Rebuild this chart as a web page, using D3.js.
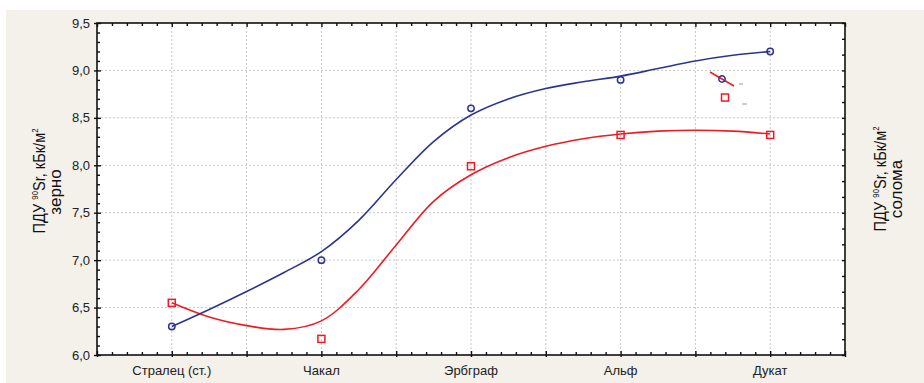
<!DOCTYPE html>
<html>
<head>
<meta charset="utf-8">
<script src="https://cdnjs.cloudflare.com/ajax/libs/d3/7.8.5/d3.min.js"></script>
<style>
  body { margin: 0; background: #fff; }
  text { font-family: "Liberation Sans", Arial, sans-serif; }
</style>
</head>
<body>
<div id="chart"></div>
<script>
// varieties on the x axis
var categories = ["Стралец (ст.)", "Чакал", "Эрбграф", "Альф", "Дукат"];

// measured values (left axis units)
var grainValues = [6.3, 7.0, 8.6, 8.9, 9.2];      // зерно, blue circles
var strawValues = [6.55, 6.17, 7.99, 8.32, 8.32]; // солома, red squares

// fitted curves, position 1..5 = category index
var fitPos = [1, 1.25, 1.5, 1.75, 2, 2.25, 2.5, 2.75, 3, 3.25, 3.5, 3.75, 4, 4.25, 4.5, 4.75, 5];
var grainFit = [6.3, 6.48, 6.67, 6.87, 7.09, 7.42, 7.85, 8.25, 8.53, 8.7, 8.81, 8.88, 8.94, 9.02, 9.1, 9.16, 9.2];
var strawFit = [6.55, 6.4, 6.31, 6.27, 6.36, 6.69, 7.16, 7.62, 7.9, 8.08, 8.2, 8.28, 8.33, 8.36, 8.37, 8.36, 8.33];

var yTickLabels = [6.0, 6.5, 7.0, 7.5, 8.0, 8.5, 9.0, 9.5];

var W = 924, H = 383;
var margin = {top: 23, right: 79, bottom: 28, left: 97};
var width = W - margin.left - margin.right,
    height = H - margin.top - margin.bottom;

var blue = "#2b3590", red = "#ec1c24";

var svg = d3.select("#chart").append("svg")
  .attr("width", W)
  .attr("height", H);

// beige panel behind everything
svg.append("rect")
  .attr("x", 6).attr("y", 10)
  .attr("width", W - 6).attr("height", H - 10)
  .attr("fill", "#f4f0ea");

var g = svg.append("g")
  .attr("transform", "translate(" + margin.left + "," + margin.top + ")");

g.append("rect")
  .attr("width", width).attr("height", height)
  .attr("fill", "#fff");

var x = d3.scaleLinear().domain([0.5, 5.5]).range([0, width]);
var y = d3.scaleLinear().domain([6.0, 9.5]).range([height, 0]);
// right axis (солома) only shows ticks, no labels
var y2 = d3.scaleLinear().domain([0, 21]).range([height, 0]);

//dotted grid
g.selectAll(".vgrid")
  .data(d3.range(1, 5.01, 0.5))
  .enter().append("line")
  .attr("x1", d => x(d)).attr("x2", d => x(d))
  .attr("y1", 0).attr("y2", height)
  .attr("stroke", "#c8c8c8")
  .attr("stroke-dasharray", "2,2");

g.selectAll(".hgrid")
  .data(yTickLabels.slice(1, -1))
  .enter().append("line")
  .attr("x1", 0).attr("x2", width)
  .attr("y1", d => y(d)).attr("y2", d => y(d))
  .attr("stroke", "#c8c8c8")
  .attr("stroke-dasharray", "2,2");

var isMajor = function(d){ return Math.abs(d * 2 - Math.round(d * 2)) < 1e-6; };
var fmt = function(d){ return d3.format(".1f")(d).replace(".", ","); };

// ticks every 0.1, point inward
var xMinor = d3.range(5, 56).map(d => d / 10);
var yMinor = d3.range(60, 96).map(d => d / 10);

g.append("g")
  .attr("transform", "translate(0," + height + ")")
  .call(d3.axisBottom(x).tickValues(xMinor).tickSize(0).tickFormat(""))
  .call(a => a.selectAll(".tick line").attr("y2", d => isMajor(d) ? -4 : -3).attr("y1", d => isMajor(d) ? 2 : 0));

g.append("g")
  .call(d3.axisTop(x).tickValues(xMinor).tickSize(0).tickFormat(""))
  .call(a => a.selectAll(".tick line").attr("y2", d => isMajor(d) ? 4 : 3));

g.append("g")
  .call(d3.axisLeft(y).tickValues(yMinor).tickSize(0).tickFormat(""))
  .call(a => a.selectAll(".tick line").attr("x2", d => isMajor(d) ? 4 : 3).attr("x1", d => isMajor(d) ? -3 : 0));

g.append("g")
  .attr("transform", "translate(" + width + ",0)")
  .call(d3.axisRight(y2).tickValues(d3.range(0, 22)).tickSize(0).tickFormat(""))
  .call(a => a.selectAll(".tick line").attr("x2", -3));

g.selectAll(".axis-frame").data([0]).enter().append("rect")
  .attr("width", width).attr("height", height)
  .attr("fill", "none").attr("stroke", "#111").attr("stroke-width", 1.6);

g.selectAll("g .domain").remove();
g.selectAll(".tick line").attr("stroke", "#111").attr("stroke-width", 1.4);

// tick labels
g.selectAll(".ylab")
  .data(yTickLabels)
  .enter().append("text")
  .attr("x", -7).attr("y", d => y(d)).attr("dy", "0.35em")
  .attr("text-anchor", "end")
  .attr("font-size", 13).attr("fill", "#222")
  .text(fmt);

g.selectAll(".xlab")
  .data(categories)
  .enter().append("text")
  .attr("x", (d, i) => x(i + 1)).attr("y", height + 20)
  .attr("text-anchor", "middle")
  .attr("font-size", 13).attr("fill", "#222")
  .text(d => d);

// fitted lines
var line = function(vals){
  return d3.line()
    .x((d, i) => x(fitPos[i]))
    .y(d => y(d))
    .curve(d3.curveCatmullRom.alpha(0.5))(vals);
};

g.append("path").attr("d", line(strawFit))
  .attr("fill", "none").attr("stroke", red).attr("stroke-width", 1.6);
g.append("path").attr("d", line(grainFit))
  .attr("fill", "none").attr("stroke", blue).attr("stroke-width", 1.6);

// markers
g.selectAll(".pt-straw")
  .data(strawValues)
  .enter().append("rect")
  .attr("x", (d, i) => x(i + 1) - 3.5).attr("y", d => y(d) - 3.5)
  .attr("width", 7).attr("height", 7)
  .attr("fill", "none").attr("stroke", red).attr("stroke-width", 1.5);

g.selectAll(".pt-grain")
  .data(grainValues)
  .enter().append("circle")
  .attr("cx", (d, i) => x(i + 1)).attr("cy", d => y(d))
  .attr("r", 3.2)
  .attr("fill", "none").attr("stroke", blue).attr("stroke-width", 1.5);

// leftover legend (its labels are missing in the original)
var lg = svg.append("g").attr("transform", "translate(722,79)");
lg.append("line").attr("x1", -12).attr("y1", -7).attr("x2", 12).attr("y2", 7)
  .attr("stroke", red).attr("stroke-width", 1.5);
lg.append("circle").attr("r", 3.2)
  .attr("fill", "none").attr("stroke", blue).attr("stroke-width", 1.5);
lg.append("line").attr("x1", 17).attr("x2", 21).attr("y1", 5).attr("y2", 5)
  .attr("stroke", "#999").attr("stroke-width", 1);
lg.append("rect").attr("x", -0.5).attr("y", 15).attr("width", 7).attr("height", 7)
  .attr("fill", "none").attr("stroke", red).attr("stroke-width", 1.5);
lg.append("line").attr("x1", 20).attr("x2", 25).attr("y1", 25).attr("y2", 25)
  .attr("stroke", "#999").attr("stroke-width", 1);

// axis titles: first line is narrow in the original, squeeze it to its width
var addTitle = function(bx, cy1, cy2, line2){
  var t = svg.append("g").attr("transform", "translate(" + bx + ",0) rotate(-90)");
  var l1g = t.append("g");
  var l1 = l1g.append("text").attr("text-anchor", "middle")
    .attr("font-size", 17).attr("fill", "#111");
  l1.append("tspan").text("ПДУ ");
  l1.append("tspan").attr("font-size", 9).attr("dy", -7).text("90");
  l1.append("tspan").attr("dy", 7).text("Sr, кБк/м");
  l1.append("tspan").attr("font-size", 9).attr("dy", -7).text("2");
  var bw = l1.node().getBBox().width;
  l1g.attr("transform", "translate(" + (-cy1) + ",0) scale(" + (105 / bw) + ",1)");
  t.append("text").attr("text-anchor", "middle")
    .attr("x", -cy2).attr("y", 16)
    .attr("font-size", 17).attr("fill", "#111").text(line2);
};
addTitle(45, 181, 192, "зерно");
addTitle(886, 179, 189, "солома");
</script>
</body>
</html>
